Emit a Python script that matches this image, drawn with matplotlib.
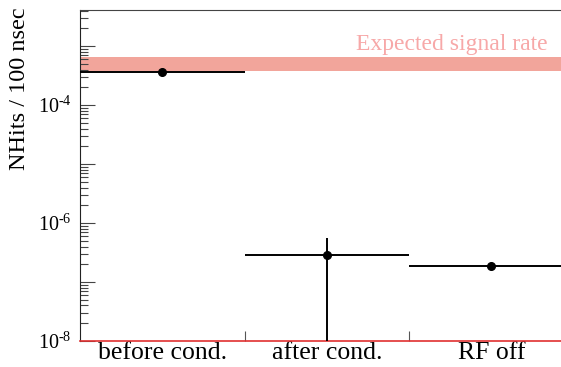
import matplotlib
matplotlib.use("Agg")
import matplotlib.pyplot as plt
import numpy as np
from matplotlib.ticker import LogLocator, FixedLocator, NullFormatter

plt.rcParams['font.family'] = ['Liberation Serif', 'DejaVu Serif']
plt.rcParams['mathtext.fontset'] = 'custom'
plt.rcParams['mathtext.rm'] = 'Liberation Serif'
plt.rcParams['axes.unicode_minus'] = False

categories = ["before cond.", "after cond.", "RF off"]
rates = [3.6e-4, 2.9e-7, 1.85e-7]
err_up = [0.0, 2.7e-7, 0.0]
err_down = [0.0, 2.9e-7, 0.0]
band_low = 3.8e-4
band_high = 6.5e-4
band_label = "Expected signal rate"
ylabel = "NHits / 100 nsec"
ymin, ymax = 1e-8, 4.1e-3

W, H = 561, 367
fig = plt.figure(figsize=(W/100, H/100), dpi=100)
ax = fig.add_axes([80/W, 1-341/H, (573.5-80)/W, (341-10)/H])

n = len(categories)
edges = np.arange(n+1)
centers = edges[:-1] + 0.5

ax.axhspan(band_low, band_high, color='#f2a59b', lw=0, zorder=1)
ax.text(2.845, 7.0e-4, band_label, color='#f7a8a8', fontsize=17,
        ha='right', va='bottom', zorder=3)

ax.errorbar(centers, rates, xerr=0.5, yerr=[err_down, err_up], fmt='o',
            color='black', ms=5.5, lw=1.4, capsize=0, zorder=4)

ax.set_yscale('log')
ax.set_ylim(ymin, ymax)
ax.set_xlim(0, n)

ax.yaxis.set_major_locator(FixedLocator([1e-8, 1e-7, 1e-6, 1e-5, 1e-4, 1e-3]))
ax.yaxis.set_minor_locator(LogLocator(base=10, subs=np.arange(2, 10), numticks=20))
ax.yaxis.set_minor_formatter(NullFormatter())
def yfmt(v, pos):
    e = int(round(np.log10(v)))
    if e % 2 == 0:
        return r'$\mathregular{10^{\text{-}%d}}$' % (-e)
    return ''
ax.yaxis.set_major_formatter(matplotlib.ticker.FuncFormatter(yfmt))
ax.tick_params(axis='y', which='major', direction='in', length=11, width=0.8,
               color='#444444', labelsize=14.5, pad=6)
ax.tick_params(axis='y', which='minor', direction='in', length=5.5, width=0.8,
               color='#444444')

ax.set_xticks(edges[1:-1])
ax.set_xticklabels([])
ax.set_xticks(centers, minor=True)
ax.set_xticklabels(categories, minor=True)
ax.tick_params(axis='x', which='major', direction='in', length=7, width=0.8,
               color='#555555')
ax.tick_params(axis='x', which='minor', length=0, labelsize=18.5, pad=1)

ax.spines['right'].set_visible(False)
ax.spines['top'].set_color('#444444')
ax.spines['left'].set_color('#222222')
ax.spines['bottom'].set_color('#e03030')
ax.spines['bottom'].set_linewidth(1.2)

fig.text(20/W, 1-89/H, ylabel, rotation=90, ha='center', va='center', fontsize=17.5)

fig.savefig('out.png', dpi=100)
